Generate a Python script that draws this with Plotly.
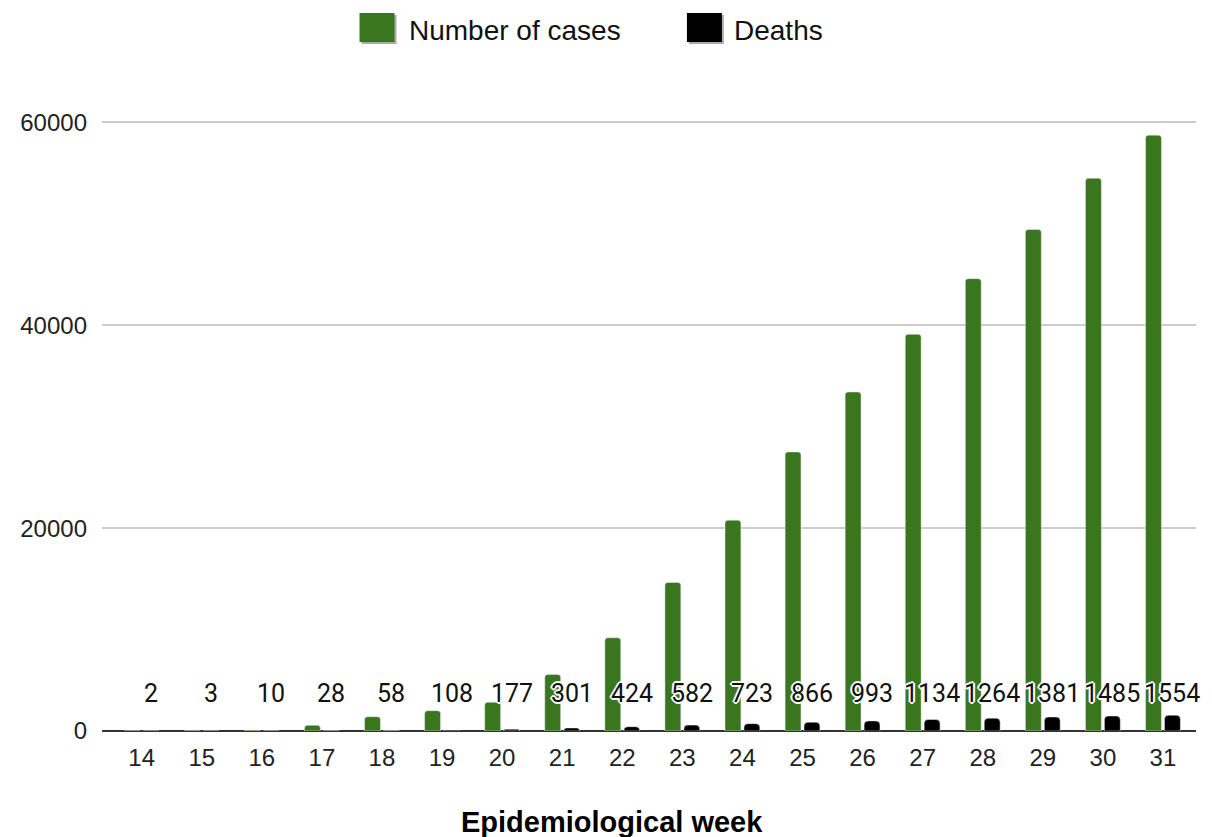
import plotly.graph_objects as go

weeks = [str(w) for w in range(14, 32)]
cases = [10, 20, 100, 560, 1410, 2000, 2830, 5580, 9190, 14650, 20790, 27520,
         33430, 39110, 44600, 49450, 54510, 58750]
deaths = [2, 3, 10, 28, 58, 108, 177, 301, 424, 582, 723, 866, 993, 1134,
          1264, 1381, 1485, 1554]
y_ticks = [0, 20000, 40000, 60000]

GREEN = "#3a761d"
halo = ("2px 0 0 #fff, -2px 0 0 #fff, 0 2px 0 #fff, 0 -2px 0 #fff,"
        " 1px 1px 0 #fff, -1px -1px 0 #fff, 1px -1px 0 #fff, -1px 1px 0 #fff")

fig = go.Figure()
fig.add_trace(go.Bar(x=weeks, y=cases, name="Number of cases",
                     marker=dict(color=GREEN, cornerradius=3)))
fig.add_trace(go.Bar(x=weeks, y=deaths, name="Deaths",
                     marker=dict(color="#000000", cornerradius=4)))

# page offset (body margin) is 8 px
OFF = 8
W, H = 1212 - OFF, 837 - OFF
PL, PR, PT, PB = 100, 1196, 100, 731  # plot area in window px
PW, PH = PR - PL, PB - PT


def px_x(x):
    return (x - PL) / PW


def px_y(y):
    return (PB - y) / PH


annotations = []
for i, d in enumerate(deaths):
    annotations.append(dict(x=i, y=0, xref="x", yref="y", text=str(d),
                            showarrow=False, xshift=9.5, yshift=38,
                            xanchor="center", yanchor="middle",
                            font=dict(family="Roboto", size=25, color="#111",
                                      shadow=halo)))
# axis title
annotations.append(dict(x=px_x(611), y=px_y(822), xref="paper", yref="paper",
                        text="<b>Epidemiological week</b>", showarrow=False,
                        xanchor="center", yanchor="middle",
                        font=dict(family="Liberation Sans", size=29, color="#000")))

# manual legend
legend_items = [("Number of cases", GREEN, 358, 406), ("Deaths", "#000000", 686, 731)]
shapes = []
for label, col, sx, tx in legend_items:
    shapes.append(dict(type="rect", xref="paper", yref="paper",
                       x0=px_x(sx + 2), x1=px_x(sx + 37),
                       y0=px_y(44), y1=px_y(15),
                       fillcolor="#aaaaaa", line=dict(width=0), layer="below"))
    shapes.append(dict(type="rect", xref="paper", yref="paper",
                       x0=px_x(sx), x1=px_x(sx + 35),
                       y0=px_y(42), y1=px_y(13),
                       fillcolor=col, line=dict(width=0)))
    annotations.append(dict(x=px_x(tx), y=px_y(30),
                            xref="paper", yref="paper", text=label,
                            showarrow=False, xanchor="left", yanchor="middle",
                            font=dict(family="Liberation Sans", size=28, color="#111")))

fig.update_layout(
    width=W, height=H,
    margin=dict(l=PL - OFF, r=OFF + W - PR, t=PT - OFF, b=OFF + H - PB),
    paper_bgcolor="white", plot_bgcolor="white",
    barmode="group", bargap=0.37, bargroupgap=0.16,
    showlegend=False,
    annotations=annotations, shapes=shapes,
    xaxis=dict(type="category", range=[-0.66, 17.55], showgrid=False,
               showline=False, ticks="", zeroline=False,
               tickfont=dict(family="Liberation Sans", size=24, color="#222"),
               ticklabelstandoff=10),
    yaxis=dict(range=[0, 62216], tickvals=y_ticks,
               ticktext=[str(v) for v in y_ticks],
               showgrid=True, gridcolor="#cccccc", gridwidth=1.5,
               zeroline=True, zerolinecolor="#333333", zerolinewidth=2,
               tickfont=dict(family="Liberation Sans", size=24, color="#222"),
               ticks="", ticklabelstandoff=14),
)

fig.write_html("out.html")
